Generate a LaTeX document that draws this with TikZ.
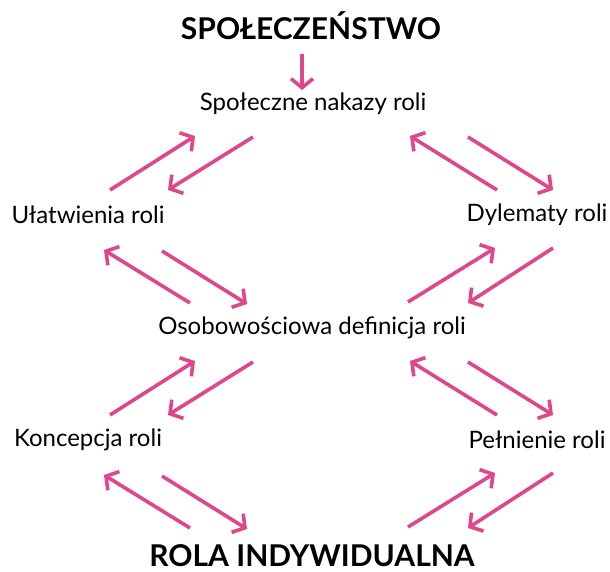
\documentclass[tikz,border=0pt]{standalone}
\usepackage{fontspec}
\setmainfont{Lato}
\usetikzlibrary{arrows.meta}
\definecolor{rolepink}{HTML}{E0468A}
\tikzset{
  label/.style={inner sep=0pt, font=\fontsize{24}{28}\selectfont},
  headline/.style={inner sep=0pt, font=\fontsize{30}{36}\selectfont\bfseries},
  link/.style={draw=rolepink, line width=3.6pt,
    -{Straight Barb[length=9pt,width=22pt,line width=3.6pt]}},
}
\begin{document}
\begin{tikzpicture}[x=1pt,y=-1pt]
\useasboundingbox (0,0) rectangle (610,572);

% labels
\node[headline] (soc)  at (311,26)  {SPOŁECZEŃSTWO};
\node[label]    (nak)  at (313,104) {Społeczne nakazy roli};
\node[label]    (ulat) at (88,215)  {Ułatwienia roli};
\node[label]    (dyl)  at (537,215) {Dylematy roli};
\node[label]    (osob) at (312,328) {Osobowościowa definicja roli};
\node[label]    (konc) at (88,440)  {Koncepcja roli};
\node[label]    (peln) at (537,440) {Pełnienie roli};
\node[headline] (ind)  at (312,556) {ROLA INDYWIDUALNA};

% connector end points
\coordinate (s1) at (302,54);  \coordinate (s2) at (302,90);
% upper left
\coordinate (a1) at (110,190); \coordinate (a2) at (195,136);
\coordinate (a3) at (253,137); \coordinate (a4) at (168,190);
\coordinate (a5) at (190,303); \coordinate (a6) at (104,250);
\coordinate (a7) at (162,251); \coordinate (a8) at (247,304);
% upper right
\coordinate (b1) at (497,190); \coordinate (b2) at (410,136);
\coordinate (b3) at (468,137); \coordinate (b4) at (553,190);
\coordinate (b5) at (408,302); \coordinate (b6) at (495,248);
\coordinate (b7) at (553,248); \coordinate (b8) at (468,303);
% lower left
\coordinate (c1) at (110,415); \coordinate (c2) at (195,361);
\coordinate (c3) at (253,362); \coordinate (c4) at (168,415);
\coordinate (c5) at (190,528); \coordinate (c6) at (104,475);
\coordinate (c7) at (162,476); \coordinate (c8) at (247,529);
% lower right
\coordinate (d1) at (497,415); \coordinate (d2) at (410,361);
\coordinate (d3) at (468,362); \coordinate (d4) at (553,415);
\coordinate (d5) at (408,527); \coordinate (d6) at (495,473);
\coordinate (d7) at (553,473); \coordinate (d8) at (468,528);

\draw[link] (s1) -- (s2);
\foreach \g in {a,b,c,d}{
  \draw[link] (\g1) -- (\g2);
  \draw[link] (\g3) -- (\g4);
  \draw[link] (\g5) -- (\g6);
  \draw[link] (\g7) -- (\g8);
}
\end{tikzpicture}
\end{document}
